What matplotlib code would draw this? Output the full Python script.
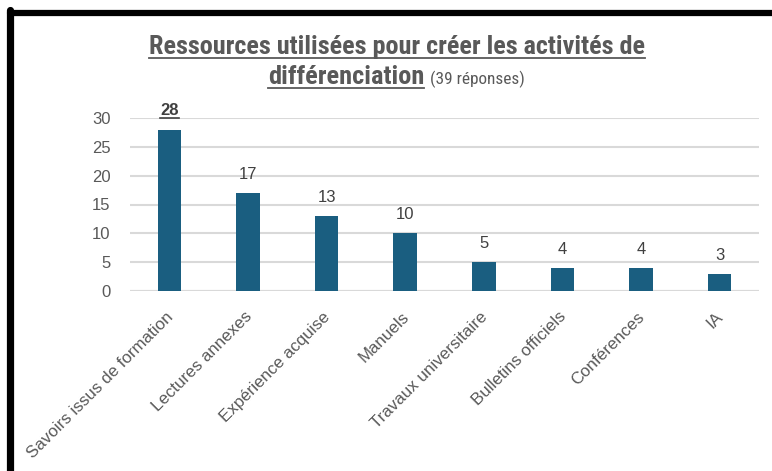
import matplotlib.pyplot as plt
from matplotlib.lines import Line2D
from matplotlib.transforms import ScaledTranslation

categories = ["Savoirs issus de formation", "Lectures annexes", "Expérience acquise",
              "Manuels", "Travaux universitaire", "Bulletins officiels",
              "Conférences", "IA"]
values = [28, 17, 13, 10, 5, 4, 4, 3]
yticks = [0, 5, 10, 15, 20, 25, 30]

W, H = 772, 471
bar_color = "#1a5e80"
text_color = "#595959"
grid_color = "#d9d9d9"
title_font = ["Roboto Condensed", "Liberation Sans", "DejaVu Sans"]

plt.rcParams["font.family"] = ["Liberation Sans", "DejaVu Sans"]

fig = plt.figure(figsize=(W / 100, H / 100), dpi=100)
ax = fig.add_axes([130 / W, 1 - 291 / H, 629 / W, 173 / H])

x = range(len(categories))
ax.bar(x, values, width=0.3, color=bar_color, zorder=3)
ax.set_xlim(-0.5, len(categories) - 0.5)
ax.set_ylim(0, 30)
ax.set_yticks(yticks)
ax.set_yticklabels([str(t) for t in yticks], fontsize=12, color=text_color)
ax.set_xticks(list(x))
ax.set_xticklabels(categories, rotation=45, ha="right", rotation_mode="anchor",
                   fontsize=12.2, color=text_color)
ax.tick_params(length=0, pad=14, axis="y")
ax.tick_params(length=0, pad=13, axis="x")
shift = ScaledTranslation(-4 / 100, 0, fig.dpi_scale_trans)
for lab in ax.get_xticklabels():
    lab.set_transform(lab.get_transform() + shift)
ax.grid(axis="y", color=grid_color, linewidth=1.5, zorder=0)
for s in ax.spines.values():
    s.set_visible(False)
ax.axhline(0, color=grid_color, linewidth=1.5, zorder=2)

# value labels
labels = []
for i, v in enumerate(values):
    t = ax.annotate(str(v), (i, v), xytext=(0, 8), textcoords="offset points",
                    ha="center", va="bottom", fontsize=12, color="#404040",
                    fontweight="bold" if i == 0 else "normal")
    labels.append(t)

# title
t1 = fig.text(396.5 / W, 1 - 54 / H,
              "Ressources utilisées pour créer les activités de",
              ha="center", va="baseline", fontsize=15, fontweight="bold",
              color=text_color, family=title_font)
t2 = fig.text(268 / W, 1 - 84 / H, "différenciation",
              ha="left", va="baseline", fontsize=15, fontweight="bold",
              color=text_color, family=title_font)
t3 = fig.text(430 / W, 1 - 84 / H, "(39 réponses)", ha="left", va="baseline",
              fontsize=10, color=text_color, family=title_font)

fig.canvas.draw()
r = fig.canvas.get_renderer()

# fit title widths to the reference
for t, w in [(t1, 497), (t2, 156), (t3, 94)]:
    bb = t.get_window_extent(r)
    t.set_fontsize(t.get_fontsize() * w / bb.width)
fig.canvas.draw()


def underline(t, color, lw, y=None):
    bb = t.get_window_extent(r)
    yy = (H - y) if y is not None else bb.y0
    fig.add_artist(Line2D([bb.x0 / W, bb.x1 / W], [yy / H, yy / H],
                          transform=fig.transFigure, color=color, linewidth=lw))


underline(t1, text_color, 1.3, 57.5)
underline(t2, text_color, 1.3, 87.5)
underline(labels[0], "#404040", 1.2)

# frame
fig.add_artist(Line2D([9.5 / W, 9.5 / W], [0, 1 - 10 / H], transform=fig.transFigure,
                      color="black", linewidth=5.2, solid_capstyle="round"))
fig.add_artist(Line2D([9.5 / W, 1.0], [1 - 13 / H, 1 - 13 / H], transform=fig.transFigure,
                      color="black", linewidth=4.5, solid_capstyle="round"))

fig.savefig("out.png", dpi=100)
